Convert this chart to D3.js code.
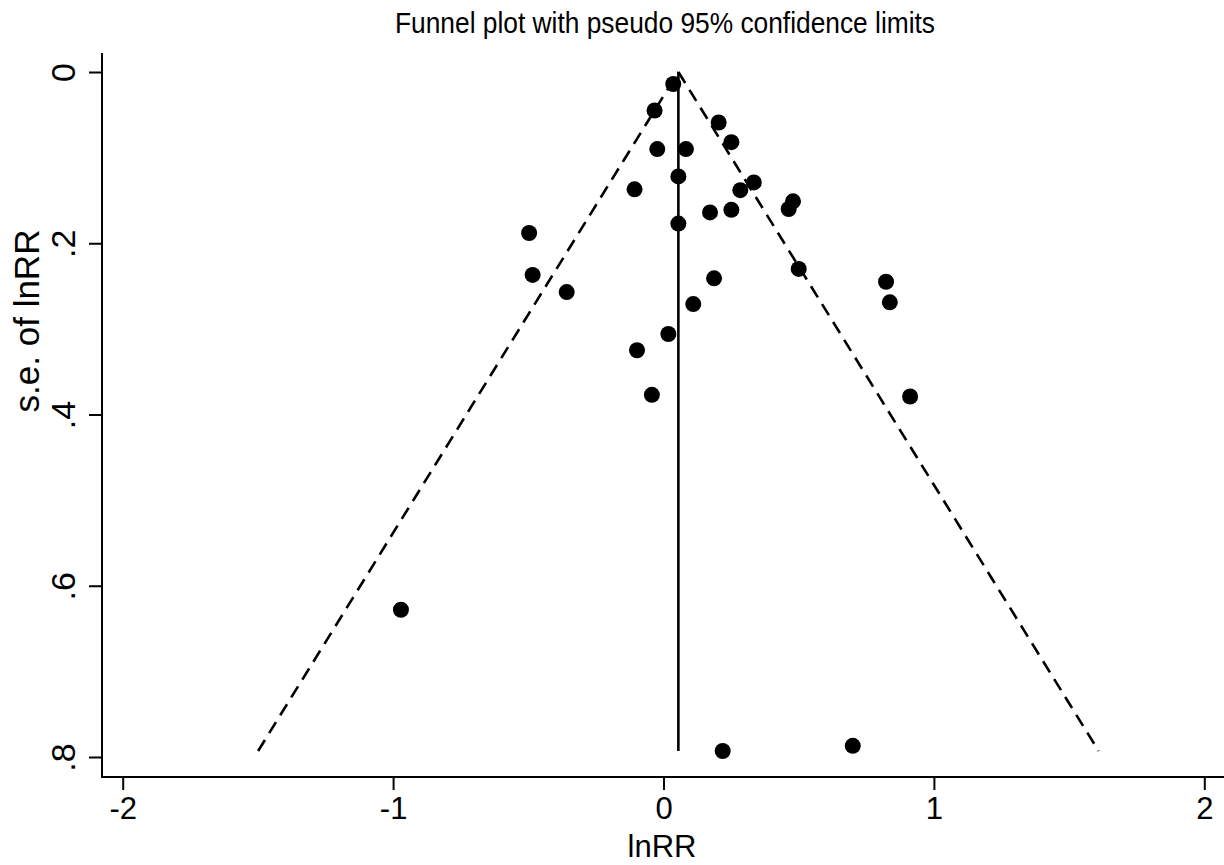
<!DOCTYPE html>
<html>
<head>
<meta charset="utf-8">
<script src="https://cdn.jsdelivr.net/npm/d3@7"></script>
<style>
  html, body { margin: 0; padding: 0; background: #fff; }
  svg { display: block; font-family: "Liberation Sans", Arial, sans-serif; }
</style>
</head>
<body>
<div id="chart"></div>
<script>
// effect estimates (lnRR) and their standard errors
const lnRR = [0.036, -0.033, 0.204, 0.251, -0.023, 0.083, 0.055, -0.107, 0.334, 0.284,
              0.479, 0.463, 0.172, 0.251, 0.055, 0.500, 0.187, -0.497, -0.484, -0.358,
              0.110, 0.018, -0.098, -0.043, 0.823, 0.837, 0.912, -0.971, 0.219, 0.700];
const seLnRR = [0.014, 0.045, 0.059, 0.082, 0.090, 0.090, 0.122, 0.137, 0.129, 0.138,
                0.151, 0.160, 0.164, 0.161, 0.177, 0.230, 0.241, 0.188, 0.237, 0.257,
                0.271, 0.306, 0.325, 0.377, 0.245, 0.269, 0.379, 0.628, 0.793, 0.787];
const pooled = 0.055;
const xTicks = [-2, -1, 0, 1, 2];
const xTickLabels = ["-2", "-1", "0", "1", "2"];
const yTicks = [0, 0.2, 0.4, 0.6, 0.8];
const yTickLabels = ["0", ".2", ".4", ".6", ".8"];

const width = 1224;
const height = 865;

const svg = d3.select("#chart").append("svg")
  .attr("width", width)
  .attr("height", height);

const x = d3.scaleLinear().domain([-2, 2]).range([122.7, 1204.3]);
const y = d3.scaleLinear().domain([0, 0.8]).range([72, 757]);

// plot frame edges
const frameLeft = 102, frameBottom = 777, frameTop = 53;

// axes
const xAxis = svg.append("g")
  .attr("transform", `translate(0,${frameBottom})`)
  .call(d3.axisBottom(x).tickValues(xTicks).tickSize(13).tickPadding(7).tickFormat((d, i) => xTickLabels[i]));
xAxis.select(".domain").remove();
xAxis.selectAll("line").attr("stroke", "#000").attr("stroke-width", 2);
xAxis.selectAll("text").attr("fill", "#000").style("font-size", "31px").attr("dy", "0.71em");

const yAxis = svg.append("g")
  .attr("transform", `translate(${frameLeft},0)`)
  .call(d3.axisLeft(y).tickValues(yTicks).tickSize(13).tickFormat((d, i) => yTickLabels[i]));
yAxis.select(".domain").remove();
yAxis.selectAll("line").attr("stroke", "#000").attr("stroke-width", 2);
yAxis.selectAll("text")
  .attr("fill", "#000")
  .attr("x", null).attr("dy", null)
  .attr("text-anchor", "middle")
  .attr("transform", "translate(-27,0) rotate(-90)")
  .style("font-size", "34px");

svg.append("line")
  .attr("x1", frameLeft).attr("x2", width)
  .attr("y1", frameBottom).attr("y2", frameBottom)
  .attr("stroke", "#000").attr("stroke-width", 2);
svg.append("line")
  .attr("x1", frameLeft).attr("x2", frameLeft)
  .attr("y1", frameTop).attr("y2", frameBottom + 1)
  .attr("stroke", "#000").attr("stroke-width", 2);

// funnel: pseudo 95% limits
const maxSe = d3.max(seLnRR);
const funnel = [
  [[pooled - 1.96 * maxSe, maxSe], [pooled, 0]],
  [[pooled, 0], [pooled + 1.96 * maxSe, maxSe]]
];
const line = d3.line().x(d => x(d[0])).y(d => y(d[1]));
svg.selectAll(".limit")
  .data(funnel)
  .join("path")
  .attr("class", "limit")
  .attr("d", line)
  .attr("fill", "none")
  .attr("stroke", "#000")
  .attr("stroke-width", 2.6)
  .attr("stroke-dasharray", "13,8");

svg.append("path")
  .attr("d", line([[pooled, 0], [pooled, maxSe]]))
  .attr("stroke", "#000")
  .attr("stroke-width", 2.6);

// studies
svg.selectAll(".dot")
  .data(lnRR.map((v, i) => ({ v, se: seLnRR[i] })))
  .join("circle")
  .attr("class", "dot")
  .attr("cx", d => x(d.v))
  .attr("cy", d => y(d.se))
  .attr("r", 8)
  .attr("fill", "#000");

// titles
svg.append("text")
  .attr("x", 665).attr("y", 33)
  .attr("text-anchor", "middle")
  .attr("textLength", 540)
  .attr("lengthAdjust", "spacingAndGlyphs")
  .style("font-size", "30px")
  .text("Funnel plot with pseudo 95% confidence limits");

svg.append("text")
  .attr("x", 662).attr("y", 857)
  .attr("text-anchor", "middle")
  .style("font-size", "31px")
  .text("lnRR");

svg.append("text")
  .attr("transform", "translate(39,321) rotate(-90)")
  .attr("text-anchor", "middle")
  .style("font-size", "35px")
  .text("s.e. of lnRR");
</script>
</body>
</html>
